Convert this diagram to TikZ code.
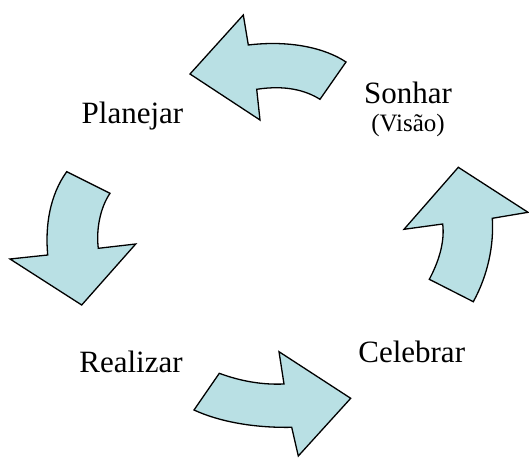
\documentclass[tikz,border=0pt]{standalone}
\usepackage{fontspec}
\setmainfont{Liberation Serif}
\usepackage{xcolor}
\usetikzlibrary{positioning,calc}
\definecolor{paleteal}{HTML}{B9E0E4}
\definecolor{ink}{HTML}{000000}
\tikzset{
  cyclearrow/.style={
    draw=ink, fill=paleteal, line width=1.3pt, line join=miter
  },
  labeltext/.style={
    font=\fontsize{31}{36}\selectfont, anchor=base, inner sep=0pt
  },
  subtext/.style={
    font=\fontsize{25}{30}\selectfont, anchor=base, inner sep=0pt
  },
}

\begin{document}
\begin{tikzpicture}[x=1pt, y=-1pt]
  \useasboundingbox (0,0) rectangle (529,457);
  % top arrow (Sonhar -> Planejar)
  \draw[cyclearrow] (346,62) -- (320,99.3)
    .. controls (305,90) and (285,85) .. (256.7,89.3)
    -- (260,120) -- (190,74) -- (243.3,15) -- (248.3,45)
    .. controls (290,40) and (325,48) .. (346,62) -- cycle;
  % left arrow (Planejar -> Realizar)
  \draw[cyclearrow] (66.7,171.7) -- (110,193.3)
    .. controls (100,208) and (96,230) .. (98.3,248.3)
    -- (135.7,244) -- (81.7,305) -- (10,259) -- (47.7,255)
    .. controls (45,225) and (50,195) .. (66.7,171.7) -- cycle;
  % bottom arrow (Realizar -> Celebrar)
  \draw[cyclearrow] (219.3,373.3)
    .. controls (240,381) and (262,385) .. (284,384)
    -- (279,351.7) -- (350.7,398.3) -- (298.3,456) -- (291.7,427.3)
    .. controls (255,428) and (220,422) .. (194,410) -- cycle;
  % right arrow (Celebrar -> Sonhar)
  \draw[cyclearrow] (458.3,167.3) -- (528,212.3) -- (492.3,218.3)
    .. controls (494,245) and (488,275) .. (473.3,301.7)
    -- (429.3,279.3)
    .. controls (438,263) and (445,243) .. (442.7,224)
    -- (404,229.3) -- cycle;

  % labels
  \node[labeltext] (planejar) at (132.5,124) {Planejar};
  \node[labeltext] (sonhar) at (408,103.3) {Sonhar};
  \node[subtext] (visao) at ([yshift=-28.4pt]sonhar.base) {(Visão)};
  \node[labeltext] (realizar) at (131,372.3) {Realizar};
  \node[labeltext] (celebrar) at (411.7,362.3) {Celebrar};
\end{tikzpicture}
\end{document}
